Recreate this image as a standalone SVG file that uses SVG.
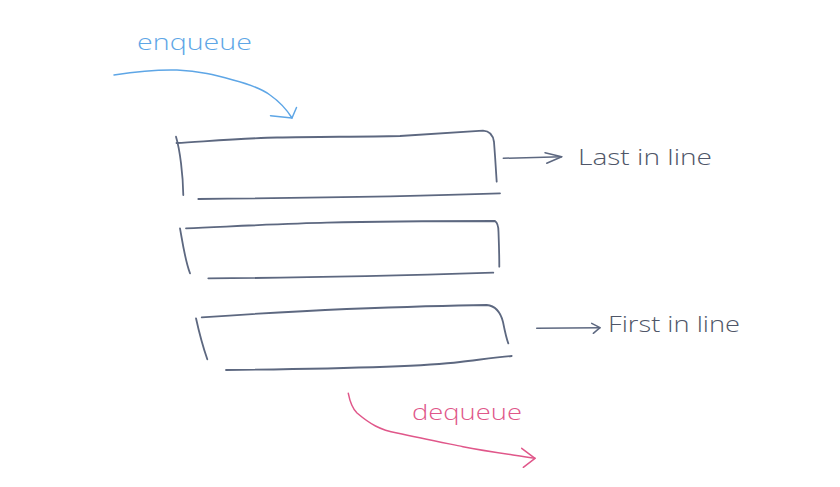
<svg xmlns="http://www.w3.org/2000/svg" width="840" height="487" viewBox="0 0 840 487">
<style>
.box{fill:none;stroke:#5d6880;stroke-width:1.8;stroke-linecap:round;stroke-linejoin:round}
.con{fill:none;stroke-width:1.5;stroke-linecap:round;stroke-linejoin:round}
.gray{stroke:#5d6880}
.blue{stroke:#5ea6e6}
.pink{stroke:#e0578a}
.t{font-family:"Open Sans","Liberation Sans",sans-serif;font-weight:300;font-size:22px}
</style>
<rect width="840" height="487" fill="#ffffff"/>
<g id="box-last">
<path class="box" d="M176.5,143 C210,141 250,138 277,137.5 C320,136.5 360,137 400,136 C430,134 460,132 483,130.7 C490,131 493,135 494,142 C495,155 496,170 496.7,181.7"/>
<path class="box" d="M176,136.7 C180,150 183,175 183.3,195"/>
<path class="box" d="M198.3,199 C300,198 420,196 500,193.3"/>
</g>
<g id="box-middle">
<path class="box" d="M186,228.3 C240,226 290,223.5 326.7,222.7 C390,221 450,221 495,221 C498,223 498.5,226 498.5,232 C499,245 499.3,257 499.3,266.7"/>
<path class="box" d="M180,228.3 C183,245 185,260 190,273.3"/>
<path class="box" d="M208.3,278.3 C300,278 420,275 493.3,272.7"/>
</g>
<g id="box-first">
<path class="box" d="M201.7,317.3 C250,314 300,311 346.7,309 C400,307 450,305.5 486.7,305 C497,306 501,314 503,322 C505,332 507,340 508.3,343.3"/>
<path class="box" d="M196,318.3 C199,332 203,347 207.3,359.3"/>
<path class="box" d="M226,370 C320,369 420,367 460,362 C485,359 500,357 511.7,356"/>
</g>
<g id="connectors">
<path class="con blue" d="M114,75 C140,71 160,69.5 177,70 C200,71 215,75 233,80 C252,85 262,89 270,95 C280,102 287,110 292,118"/>
<path class="con blue" d="M296.5,107.5 L292,118 L270.5,115.7"/>
<path class="con pink" d="M348.3,393.3 C350,402 352,408 357,413 C370,424 380,430 397,433 C420,438 440,442 463,446.7 C490,452 515,455 535,458.3"/>
<path class="con pink" d="M521.7,448.3 L535,458.3 L523.3,467.3"/>
<path class="con gray" d="M503.3,158.3 L561.7,156.7"/>
<path class="con gray" d="M545,152.7 L561.7,156.7 L546.7,163.3"/>
<path class="con gray" d="M536.7,328.3 L600,327.7"/>
<path class="con gray" d="M591.7,323.3 L600,327.7 L593.3,333.3"/>
</g>
<g id="labels">
<text class="t" x="137" y="50" fill="#5ea6e6" textLength="115" lengthAdjust="spacingAndGlyphs">enqueue</text>
<text class="t" x="412" y="420" fill="#e0578a" textLength="110" lengthAdjust="spacingAndGlyphs">dequeue</text>
<text class="t" x="578" y="165" fill="#4f5668" textLength="134" lengthAdjust="spacingAndGlyphs">Last in line</text>
<text class="t" x="608" y="332" fill="#4f5668" textLength="132" lengthAdjust="spacingAndGlyphs">First in line</text>
</g>
</svg>
